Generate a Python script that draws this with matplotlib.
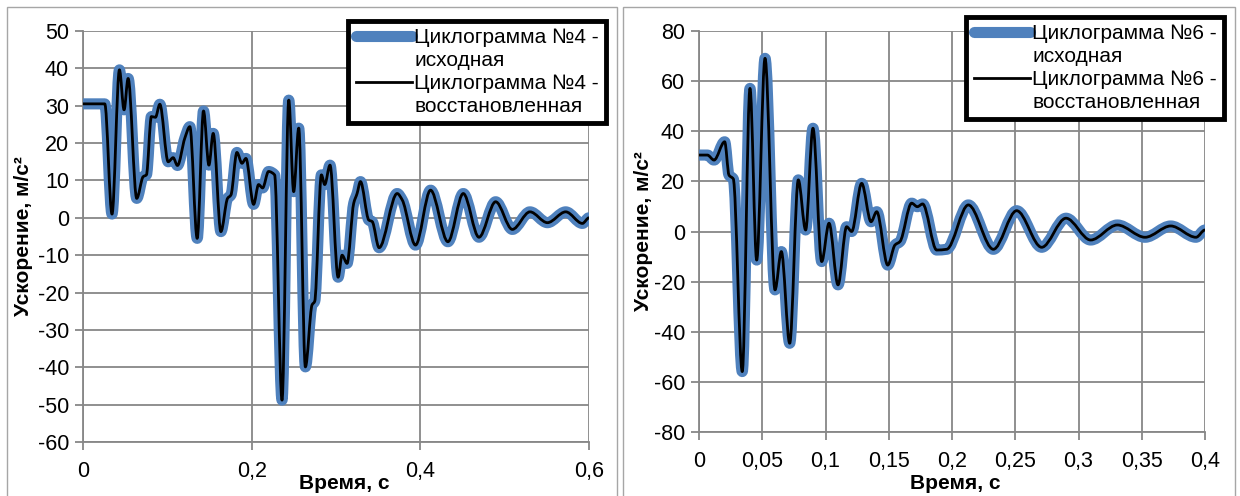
import numpy as np
import matplotlib
matplotlib.use("Agg")
import matplotlib.pyplot as plt
from matplotlib.path import Path
from matplotlib.patches import PathPatch, Rectangle
from matplotlib.lines import Line2D

plt.rcParams['font.family'] = ['Liberation Sans', 'DejaVu Sans']
plt.rcParams['axes.unicode_minus'] = False

# cyclogram No.4 (time, s / acceleration, m/s^2)
t4 = [0, 0.0258, 0.0344, 0.0432, 0.0487, 0.0535, 0.0637, 0.0713, 0.0752, 0.0811,
      0.0859, 0.0911, 0.101, 0.1069, 0.112, 0.1207, 0.1267, 0.1354, 0.1429, 0.1493,
      0.1544, 0.1635, 0.1714, 0.1754, 0.1825, 0.1885, 0.1932, 0.2023, 0.2082, 0.213,
      0.22, 0.2272, 0.236, 0.244, 0.2498, 0.2558, 0.2637, 0.2716, 0.2747, 0.2827,
      0.2866, 0.2929, 0.3025, 0.3072, 0.3131, 0.321, 0.325, 0.329, 0.3389, 0.3429,
      0.3511, 0.3725, 0.3785, 0.3943, 0.4121, 0.4327, 0.4509, 0.4695, 0.4893, 0.5091,
      0.53, 0.5507, 0.5724, 0.5922, 0.6]
a4 = [30.5, 30.5, 1, 39.6, 28.9, 37.3, 5.2, 11, 11.5, 27.1,
      26.9, 30.4, 15, 16.1, 14, 21.3, 24.4, -5.5, 28.6, 14.1,
      22.6, -3.7, 5.2, 6.1, 17.5, 14.6, 15.9, 3.6, 8.9, 8,
      12.4, 11.5, -48.8, 31.5, 7, 24, -39.9, -23.3, -22.4, 11.5,
      8.9, 14.1, -15.9, -10, -12.2, 3.9, 6.5, 9.7, -0.6, -1,
      -8, 6.5, 4.8, -7.3, 7.4, -6.4, 6.5, -5.2, 4.3, -3.1,
      1.6, -1.3, 1.6, -1.5, 0]

# cyclogram No.6
t6 = [0, 0.0066, 0.0119, 0.0203, 0.0237, 0.0271, 0.0342, 0.0403, 0.0456, 0.0522,
      0.0601, 0.0651, 0.0717, 0.0785, 0.0843, 0.0901, 0.097, 0.1028, 0.1099, 0.1167,
      0.1207, 0.1286, 0.136, 0.1405, 0.1492, 0.1549, 0.1589, 0.1681, 0.1726, 0.1768,
      0.1879, 0.1958, 0.2129, 0.2327, 0.2511, 0.2709, 0.2901, 0.3096, 0.3307, 0.3526,
      0.3729, 0.3929, 0.4]
a6 = [30.5, 30.5, 28.5, 35.8, 22.5, 21, -55.9, 57.1, -11.4, 69.1,
      -23.3, -8, -44.6, 20.6, 0.6, 41.2, -12, 3.3, -21.3, 1.9,
      0, 19.2, 3.9, 7.9, -13.4, -5.4, -4, 11.3, 9.9, 11,
      -7.4, -7.1, 10.6, -7.1, 8.3, -6.3, 5.3, -3.4, 2.6, -2.3,
      2.2, -2.3, 0.6]

x4_ticks = [0, 0.2, 0.4, 0.6]
x4_labels = ['0', '0,2', '0,4', '0,6']
x6_ticks = [0, 0.05, 0.1, 0.15, 0.2, 0.25, 0.3, 0.35, 0.4]
x6_labels = ['0', '0,05', '0,1', '0,15', '0,2', '0,25', '0,3', '0,35', '0,4']

BLUE = '#4f81bd'
GRID = '#878787'
FS = 15
W, H = 1240, 496


def smooth_path(x, y):
    # monotone cubic (Fritsch-Carlson) segments written as Bezier curves
    x = np.asarray(x, float)
    y = np.asarray(y, float)
    h = np.diff(x)
    s = np.diff(y) / h
    d = np.zeros_like(y)
    for i in range(1, len(y) - 1):
        if s[i - 1] * s[i] > 0:
            w1 = 2 * h[i] + h[i - 1]
            w2 = h[i] + 2 * h[i - 1]
            d[i] = (w1 + w2) / (w1 / s[i - 1] + w2 / s[i])
    verts = [(x[0], y[0])]
    codes = [Path.MOVETO]
    for i in range(len(h)):
        verts += [(x[i] + h[i] / 3, y[i] + d[i] * h[i] / 3),
                  (x[i + 1] - h[i] / 3, y[i + 1] - d[i + 1] * h[i] / 3),
                  (x[i + 1], y[i + 1])]
        codes += [Path.CURVE4] * 3
    return Path(verts, codes)


def draw_panel(ax, t, a, num, xt, xl, ylim, ystep, leg_anchor, ylab_x, xlab_xy):
    p = smooth_path(t, a)
    ax.add_patch(PathPatch(p, fill=False, edgecolor=BLUE, lw=8,
                           capstyle='round', joinstyle='round', zorder=3))
    ax.add_patch(PathPatch(p, fill=False, edgecolor='black', lw=2.0,
                           capstyle='round', joinstyle='round', zorder=4))
    ax.set_xlim(xt[0], xt[-1])
    ax.set_ylim(*ylim)
    ax.set_xticks(xt)
    ax.set_xticklabels(xl)
    ax.set_yticks(np.arange(ylim[0], ylim[1] + 1, ystep))
    ax.grid(True, color=GRID, lw=1.3)
    ax.set_axisbelow(True)
    for side in ['top', 'right']:
        ax.spines[side].set_visible(False)
    for side in ['left', 'bottom']:
        ax.spines[side].set_color(GRID)
        ax.spines[side].set_linewidth(1.3)
    ax.tick_params(length=6, width=1.3, color=GRID, labelsize=15.5, pad=4)
    ax.tick_params(axis='x', pad=8)
    ax.set_xlabel('Время, с', fontsize=FS, fontweight='bold')
    ax.xaxis.set_label_coords(*xlab_xy)
    ax.set_ylabel('Ускорение, м/с²', fontsize=FS, fontweight='bold')
    ax.yaxis.set_label_coords(ylab_x, 0.5)

    # each label line gets its own legend row so the line sits beside the first one
    blank = Line2D([], [], color='none')
    handles = [Line2D([], [], color=BLUE, lw=8, solid_capstyle='round'), blank,
               Line2D([], [], color='black', lw=2.0), blank]
    labels = ['Циклограмма №%d -' % num, 'исходная',
              'Циклограмма №%d -' % num, 'восстановленная']
    leg = ax.legend(handles, labels, loc='upper right',
                    bbox_to_anchor=leg_anchor, bbox_transform=fig.transFigure,
                    fontsize=FS, fancybox=False, framealpha=1,
                    handlelength=2.7, handletextpad=0.1, labelspacing=0.18,
                    borderpad=0.35, borderaxespad=0)
    leg.get_frame().set_edgecolor('black')
    leg.get_frame().set_linewidth(3.5)
    leg.set_zorder(10)


fig = plt.figure(figsize=(W / 100, H / 100), dpi=100)

# grey frames around the two chart areas
for x0, x1 in [(7, 617), (623, 1235)]:
    fig.patches.append(Rectangle((x0 / W, -0.05), (x1 - x0) / W, 1.05 - 7 / H,
                                 transform=fig.transFigure, fill=False,
                                 edgecolor='#a6a6a6', lw=1.0))

ax1 = fig.add_axes([83 / W, 1 - 442 / H, (589 - 83) / W, (442 - 31) / H])
ax2 = fig.add_axes([699 / W, 1 - 432 / H, (1205 - 699) / W, (432 - 31) / H])

draw_panel(ax1, t4, a4, 4, x4_ticks, x4_labels, (-60, 50), 10,
           (606 / W, 1 - 21 / H), (33 - 83) / 506, ((344 - 83) / 506, (442 - 474) / 411))
draw_panel(ax2, t6, a6, 6, x6_ticks, x6_labels, (-80, 80), 20,
           (1224 / W, 1 - 17 / H), (653 - 699) / 506, ((955 - 699) / 506, (432 - 474) / 401))

fig.savefig('out.png', dpi=100)
